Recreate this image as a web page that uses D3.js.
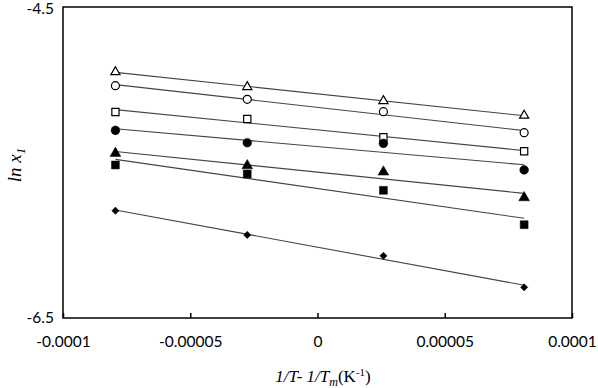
<!DOCTYPE html>
<html><head><meta charset="utf-8">
<script src="https://cdn.jsdelivr.net/npm/d3@7"></script>
<style>body{margin:0;background:#fff}svg{display:block}</style>
</head><body>
<svg id="c" width="598" height="388"></svg>
<script>
const xVals = [-0.0000794, -0.0000276, 0.0000259, 0.0000812];
const seriesNames = ["openTriangle","openCircle","openSquare","filledCircle","filledTriangle","filledSquare","diamond"];
const yOpenTriangle  = [-4.918, -5.014, -5.104, -5.198];
const yOpenCircle    = [-5.006, -5.094, -5.173, -5.308];
const yOpenSquare    = [-5.175, -5.220, -5.338, -5.428];
const yFilledCircle  = [-5.293, -5.373, -5.377, -5.548];
const yFilledTriangle= [-5.441, -5.521, -5.561, -5.726];
const yFilledSquare  = [-5.516, -5.574, -5.679, -5.900];
const yDiamond       = [-5.810, -5.966, -6.100, -6.303];
const xTicks = [-0.0001, -0.00005, 0, 0.00005, 0.0001];
const xTickLabels = ["-0.0001","-0.00005","0","0.00005","0.0001"];
const yTicks = [-4.5, -6.5];
const yTickLabels = ["-4.5","-6.5"];

const series = [
  {name:"openTriangle", y:yOpenTriangle, shape:d3.symbolTriangle, fill:"#fff", size:36, rot:0},
  {name:"openCircle", y:yOpenCircle, shape:d3.symbolCircle, fill:"#fff", size:50, rot:0},
  {name:"openSquare", y:yOpenSquare, shape:d3.symbolSquare, fill:"#fff", size:52, rot:0},
  {name:"filledCircle", y:yFilledCircle, shape:d3.symbolCircle, fill:"#000", size:60, rot:0},
  {name:"filledTriangle", y:yFilledTriangle, shape:d3.symbolTriangle, fill:"#000", size:50, rot:0},
  {name:"filledSquare", y:yFilledSquare, shape:d3.symbolSquare, fill:"#000", size:62, rot:0},
  {name:"diamond", y:yDiamond, shape:d3.symbolSquare, fill:"#000", size:26, rot:45}
];

const svg = d3.select("#c");
const L = 63, R = 572, T = 7, B = 318;
const x = d3.scaleLinear().domain([-0.0001, 0.0001]).range([L, R]);
const y = d3.scaleLinear().domain([-6.5, -4.5]).range([B, T]);

// regression lines
function fit(xs, ys){
  const n = xs.length, mx = d3.mean(xs), my = d3.mean(ys);
  let sxy=0, sxx=0;
  for(let i=0;i<n;i++){sxy+=(xs[i]-mx)*(ys[i]-my); sxx+=(xs[i]-mx)**2;}
  const b = sxy/sxx, a = my - b*mx;
  return v => a + b*v;
}
const line = d3.line().x(d=>x(d[0])).y(d=>y(d[1]));
const gLines = svg.append("g");
series.forEach(s=>{
  const f = fit(xVals, s.y);
  const ends = [xVals[0], xVals[xVals.length-1]].map(v=>[v, f(v)]);
  gLines.append("path").attr("d", line(ends)).attr("stroke","#444").attr("stroke-width",1.1).attr("fill","none");
});

// frame
svg.append("rect").attr("x",L).attr("y",T).attr("width",R-L).attr("height",B-T)
  .attr("fill","none").attr("stroke","#000").attr("stroke-width",1.5);

// x axis ticks (inside)
const xAxis = d3.axisBottom(x).tickValues(xTicks).tickSize(-5).tickFormat((d,i)=>xTickLabels[i]).tickPadding(18);
const gx = svg.append("g").attr("transform",`translate(0,${B})`).call(xAxis);
gx.select(".domain").remove();
gx.selectAll(".tick line").attr("stroke","#000").attr("stroke-width",1.5);
gx.selectAll("text").attr("font-family","Lato, 'Open Sans', sans-serif").attr("font-size",15.5).attr("fill","#000");

const yAxis = d3.axisLeft(y).tickValues(yTicks).tickSize(0).tickFormat((d,i)=>yTickLabels[i]).tickPadding(9);
const gy = svg.append("g").attr("transform",`translate(${L},0)`).call(yAxis);
gy.select(".domain").remove();
gy.selectAll("text").attr("font-family","Lato, 'Open Sans', sans-serif").attr("font-size",15.5).attr("fill","#000");
gy.selectAll(".tick").filter(d=>d===-4.5).select("text").attr("dy","0.4em");

// markers
series.forEach(s=>{
  svg.append("g").selectAll("path").data(xVals.map((v,i)=>[v, s.y[i]])).join("path")
    .attr("transform", d=>`translate(${x(d[0])},${y(d[1])}) rotate(${s.rot})`)
    .attr("d", d3.symbol().type(s.shape).size(s.size))
    .attr("fill", s.fill).attr("stroke","#000").attr("stroke-width", s.fill==="#fff"?1.2:0.5);
});

// axis titles
const xt = svg.append("text").attr("x",323).attr("y",382).attr("text-anchor","middle")
  .attr("font-family","'Liberation Serif', 'Times New Roman', serif").attr("font-size",17).attr("fill","#000");
xt.append("tspan").attr("font-style","italic").text("1/T- 1/T");
xt.append("tspan").attr("font-style","italic").attr("font-size",12).attr("dy",4).text("m");
xt.append("tspan").attr("dy",-4).text("(K");
xt.append("tspan").attr("font-size",11).attr("dy",-6).text("-1");
xt.append("tspan").attr("dy",6).text(")");

const yt = svg.append("text").attr("transform","translate(21,165) rotate(-90)").attr("text-anchor","middle")
  .attr("font-family","'Liberation Serif', 'Times New Roman', serif").attr("font-size",19).attr("font-style","italic").attr("fill","#000");
yt.append("tspan").text("ln x");
yt.append("tspan").attr("font-size",13).attr("dy",4).text("1");
</script>
</body></html>
